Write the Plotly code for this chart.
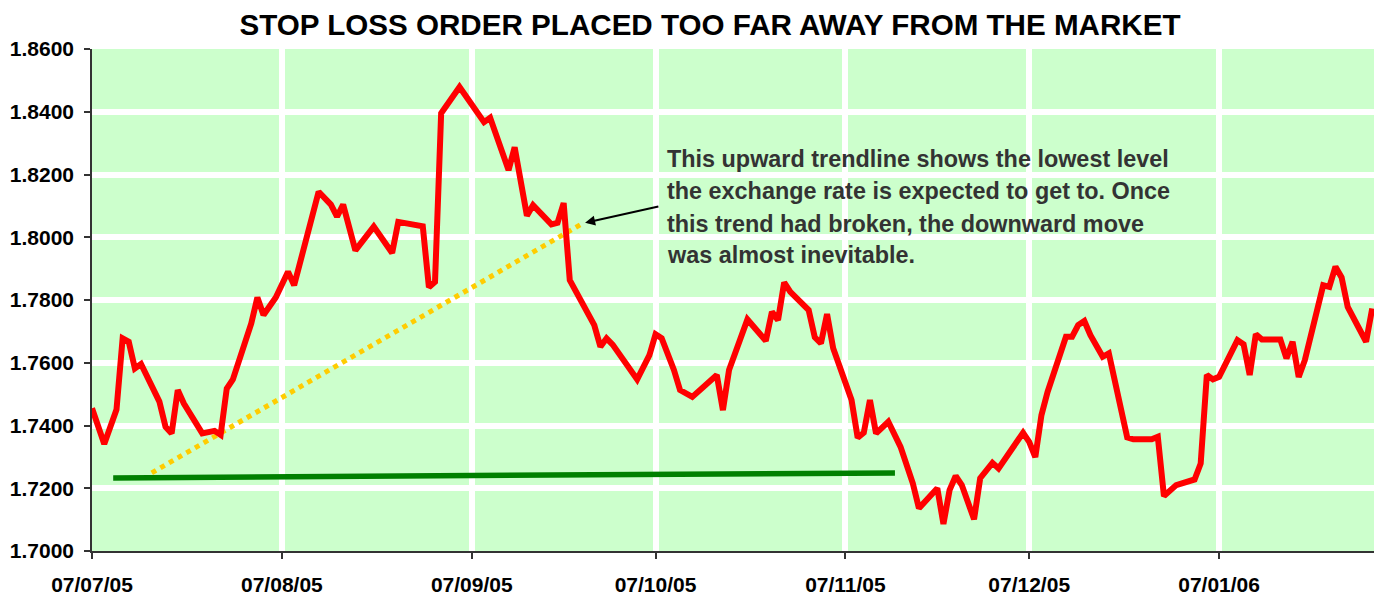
import plotly.graph_objects as go

# ---- data ----
price_dates = [
    "2005-07-07", "2005-07-09", "2005-07-11", "2005-07-12", "2005-07-13", "2005-07-14", "2005-07-15",
    "2005-07-18", "2005-07-19", "2005-07-20", "2005-07-21", "2005-07-22", "2005-07-25", "2005-07-27",
    "2005-07-28", "2005-07-29", "2005-07-30", "2005-08-02", "2005-08-03", "2005-08-04", "2005-08-06",
    "2005-08-08", "2005-08-09", "2005-08-11", "2005-08-13", "2005-08-15", "2005-08-16", "2005-08-17",
    "2005-08-19", "2005-08-22", "2005-08-25", "2005-08-26", "2005-08-30", "2005-08-31", "2005-09-01",
    "2005-09-02", "2005-09-05", "2005-09-06", "2005-09-08", "2005-09-09", "2005-09-10", "2005-09-13",
    "2005-09-14", "2005-09-16", "2005-09-17", "2005-09-20", "2005-09-21", "2005-09-22", "2005-09-23",
    "2005-09-27", "2005-09-28", "2005-09-29", "2005-09-30", "2005-10-04", "2005-10-06", "2005-10-07",
    "2005-10-08", "2005-10-10", "2005-10-11", "2005-10-13", "2005-10-17", "2005-10-18", "2005-10-19",
    "2005-10-22", "2005-10-25", "2005-10-26", "2005-10-27", "2005-10-28", "2005-10-29", "2005-11-01",
    "2005-11-02", "2005-11-03", "2005-11-04", "2005-11-05", "2005-11-08", "2005-11-09", "2005-11-10",
    "2005-11-11", "2005-11-12", "2005-11-14", "2005-11-16", "2005-11-18", "2005-11-19", "2005-11-22",
    "2005-11-23", "2005-11-24", "2005-11-25", "2005-11-26", "2005-11-28", "2005-11-29", "2005-12-01",
    "2005-12-02", "2005-12-06", "2005-12-07", "2005-12-08", "2005-12-09", "2005-12-10", "2005-12-13",
    "2005-12-14", "2005-12-15", "2005-12-16", "2005-12-17", "2005-12-19", "2005-12-20", "2005-12-23",
    "2005-12-24", "2005-12-27", "2005-12-28", "2005-12-29", "2005-12-31", "2006-01-03", "2006-01-04",
    "2006-01-05", "2006-01-06", "2006-01-07", "2006-01-10", "2006-01-11", "2006-01-12", "2006-01-13",
    "2006-01-14", "2006-01-17", "2006-01-18", "2006-01-19", "2006-01-20", "2006-01-21", "2006-01-24",
    "2006-01-25", "2006-01-26", "2006-01-27", "2006-01-28", "2006-01-31", "2006-02-01",
]
price_values = [
    1.7455, 1.7341, 1.7451, 1.7678, 1.7667, 1.7582, 1.7596,
    1.7476, 1.7396, 1.7375, 1.7513, 1.7470, 1.7375, 1.7383,
    1.7370, 1.7518, 1.7547, 1.7725, 1.7808, 1.7752, 1.7808,
    1.7890, 1.7847, 1.7991, 1.8145, 1.8104, 1.8066, 1.8104,
    1.7958, 1.8034, 1.7950, 1.8049, 1.8035, 1.7841, 1.7858,
    1.8395, 1.8479, 1.8451, 1.8392, 1.8367, 1.8381, 1.8214,
    1.8287, 1.8069, 1.8102, 1.8041, 1.8046, 1.8109, 1.7863,
    1.7720, 1.7651, 1.7678, 1.7658, 1.7547, 1.7624, 1.7691,
    1.7678, 1.7577, 1.7513, 1.7491, 1.7561, 1.7449, 1.7577,
    1.7738, 1.7670, 1.7762, 1.7736, 1.7856, 1.7826, 1.7768,
    1.7681, 1.7662, 1.7755, 1.7646, 1.7481, 1.7361, 1.7377,
    1.7481, 1.7375, 1.7412, 1.7332, 1.7216, 1.7136, 1.7200,
    1.7086, 1.7194, 1.7239, 1.7210, 1.7101, 1.7232, 1.7281,
    1.7263, 1.7377, 1.7348, 1.7299, 1.7433, 1.7507, 1.7683,
    1.7683, 1.7720, 1.7733, 1.7688, 1.7619, 1.7630, 1.7362,
    1.7356, 1.7356, 1.7364, 1.7175, 1.7210, 1.7228, 1.7279,
    1.7561, 1.7547, 1.7555, 1.7672, 1.7659, 1.7561, 1.7691,
    1.7674, 1.7674, 1.7614, 1.7667, 1.7555, 1.7608, 1.7847,
    1.7842, 1.7906, 1.7872, 1.7778, 1.7667, 1.7773,
]

# stop-loss level (green) and upward trendline (yellow dotted)
stop_dates = ["2005-07-10 11:00", "2005-11-15 02:00"]
stop_values = [1.7233, 1.7249]
trend_dates = ["2005-07-16 18:00", "2005-09-25 02:00"]
trend_values = [1.7249, 1.8044]

arrow_tip = ("2005-09-25 12:00", 1.8046)
arrow_tail = ("2005-10-07 17:00", 1.8099)

note_lines = [
    "This upward trendline shows the lowest level",
    "the exchange rate is expected to get to. Once",
    "this trend had broken, the downward move",
    "was almost inevitable.",
]

y_ticks = [1.70, 1.72, 1.74, 1.76, 1.78, 1.80, 1.82, 1.84, 1.86]
x_range = ["2005-07-07", "2006-02-01 07:00"]

FONT = "Liberation Sans, Arial, sans-serif"

W, H = 1374, 596

fig = go.Figure()
fig.add_trace(go.Scatter(x=stop_dates, y=stop_values, mode="lines",
                         line=dict(color="#008000", width=5.5), hoverinfo="skip"))
fig.add_trace(go.Scatter(x=trend_dates, y=trend_values, mode="lines",
                         line=dict(color="#FFCC00", width=5, dash="5px,5px"), hoverinfo="skip"))
fig.add_trace(go.Scatter(x=price_dates, y=price_values, mode="lines",
                         line=dict(color="#FF0000", width=6)))

fig.add_annotation(x=arrow_tip[0], y=arrow_tip[1], ax=arrow_tail[0], ay=arrow_tail[1],
                   xref="x", yref="y", axref="x", ayref="y", text="",
                   showarrow=True, arrowhead=2, arrowsize=1, arrowwidth=2, arrowcolor="#000000")

line_y_px = [158.5, 191.5, 223.5, 255.5]
for txt, ypx in zip(note_lines, line_y_px):
    fig.add_annotation(x=(665 - 92) / 1282, y=(551 - ypx) / 502, xref="paper", yref="paper",
                       text=txt, showarrow=False, xanchor="left", yanchor="middle",
                       font=dict(family=FONT, size=23.4, color="#333333", weight="bold"))

fig.update_layout(
    width=W, height=H,
    margin=dict(l=92, r=0, t=49, b=45, autoexpand=False),
    paper_bgcolor="white",
    plot_bgcolor="#CCFFCC",
    showlegend=False,
    title=dict(text="STOP LOSS ORDER PLACED TOO FAR AWAY FROM THE MARKET",
               x=710 / W, xanchor="center", y=1 - 24.5 / H, yanchor="middle",
               font=dict(family=FONT, size=29.6, color="#000000", weight="bold")),
)
fig.update_xaxes(
    type="date", range=x_range, tick0="2005-07-07", dtick="M1", tickformat="%d/%m/%y",
    automargin=False,
    showgrid=True, gridcolor="white", gridwidth=6,
    showline=True, linecolor="#333333", linewidth=1.5,
    ticks="outside", ticklen=6, tickwidth=1.5, tickcolor="#333333",
    ticklabelstandoff=8,
    tickfont=dict(family=FONT, size=21, color="#000000", weight="bold"),
    zeroline=False,
)
fig.update_yaxes(
    range=[1.70, 1.86], tickvals=y_ticks, tickformat=".4f",
    automargin=False,
    showgrid=True, gridcolor="white", gridwidth=6,
    showline=True, linecolor="#333333", linewidth=1.5,
    ticks="outside", ticklen=6, tickwidth=1.5, tickcolor="#333333",
    ticklabelstandoff=6,
    tickfont=dict(family=FONT, size=21, color="#000000", weight="bold"),
    zeroline=False,
)

fig.write_html("out.html", config={"displayModeBar": False},
               post_script="document.body.style.margin='0px'; document.body.style.overflow='hidden';")
